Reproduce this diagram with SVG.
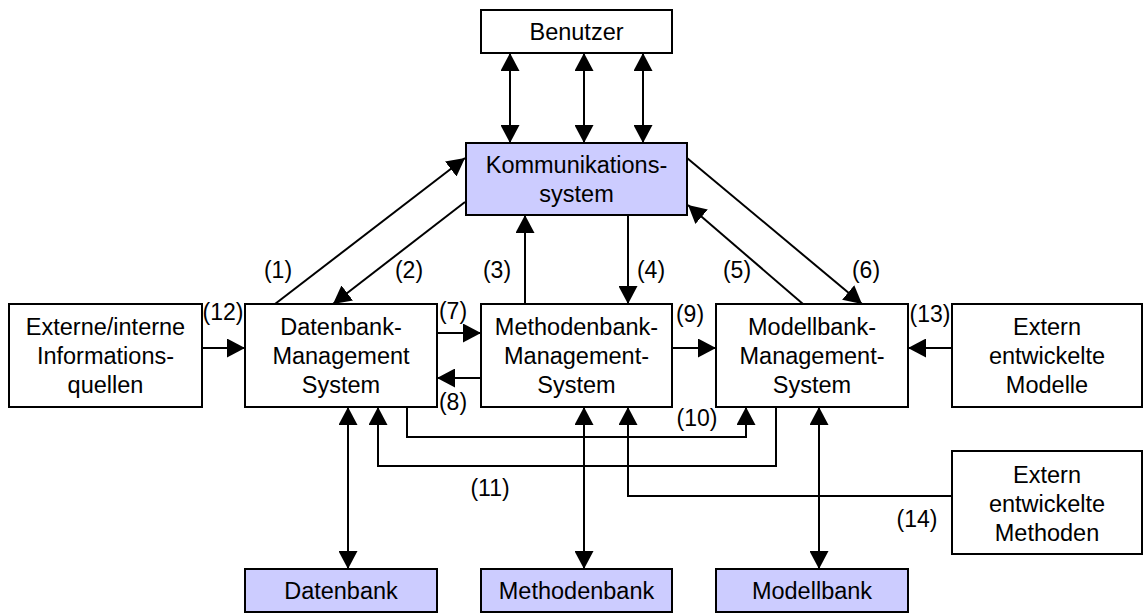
<svg xmlns="http://www.w3.org/2000/svg" width="1143" height="613" viewBox="0 0 1143 613">
  <style>
    .box { fill: #ffffff; stroke: #000000; stroke-width: 2; }
    .store { fill: #ccccff; stroke: #000000; stroke-width: 2; }
    .lbl { font-family: "Liberation Sans", Arial, sans-serif; font-size: 23.5px; fill: #000000; text-anchor: middle; }
    .num { font-family: "Liberation Sans", Arial, sans-serif; font-size: 23px; fill: #000000; text-anchor: middle; }
    .line { fill: none; stroke: #000000; stroke-width: 2; }
    .one { marker-end: url(#head); }
    .two { marker-start: url(#head); marker-end: url(#head); }
  </style>
  <defs>
    <marker id="head" markerUnits="userSpaceOnUse" markerWidth="18" markerHeight="19" refX="18" refY="9.5" orient="auto-start-reverse">
      <path d="M0,0 L18,9.5 L0,19 Z" fill="#000000"/>
    </marker>
  </defs>

  <rect width="1143" height="613" fill="#ffffff"/>

  <!-- connectors -->
  <g id="connectors">
    <!-- user <-> communication system -->
    <line class="line two" x1="510" y1="53" x2="510" y2="143"/>
    <line class="line two" x1="584" y1="53" x2="584" y2="143"/>
    <line class="line two" x1="643" y1="53" x2="643" y2="143"/>
    <!-- (1) .. (6) -->
    <line class="line one" x1="275" y1="304" x2="465" y2="158"/>
    <line class="line one" x1="465" y1="202" x2="333" y2="304"/>
    <line class="line one" x1="525" y1="304" x2="525" y2="215"/>
    <line class="line one" x1="628" y1="215" x2="628" y2="304"/>
    <line class="line one" x1="803" y1="304" x2="688" y2="205"/>
    <line class="line one" x1="687" y1="158" x2="862" y2="304"/>
    <!-- (7) (8) (9) (12) (13) -->
    <line class="line one" x1="437" y1="333" x2="481" y2="333"/>
    <line class="line one" x1="481" y1="378" x2="437" y2="378"/>
    <line class="line one" x1="672" y1="348" x2="716" y2="348"/>
    <line class="line one" x1="202" y1="348" x2="245" y2="348"/>
    <line class="line one" x1="952" y1="348" x2="908" y2="348"/>
    <!-- management systems <-> stores -->
    <line class="line two" x1="348" y1="407" x2="348" y2="569"/>
    <line class="line two" x1="584" y1="407" x2="584" y2="569"/>
    <line class="line two" x1="819" y1="407" x2="819" y2="569"/>
    <!-- (10) (11) (14) -->
    <path class="line one" d="M407,407 V437 H746 V407"/>
    <path class="line one" d="M776,407 V466 H378 V407"/>
    <path class="line one" d="M952,496 H628 V407"/>
  </g>

  <g id="benutzer">
    <rect class="box" x="481" y="10" width="191" height="43"/>
    <text class="lbl" x="576.5" y="40">Benutzer</text>
  </g>

  <g id="kommunikationssystem">
    <rect class="store" x="466" y="143" width="221" height="72"/>
    <text class="lbl" x="576.5" y="173">Kommunikations-</text>
    <text class="lbl" x="576.5" y="202">system</text>
  </g>

  <g id="informationsquellen">
    <rect class="box" x="9" y="304" width="193" height="103"/>
    <text class="lbl" x="105.5" y="335">Externe/interne</text>
    <text class="lbl" x="105.5" y="364">Informations-</text>
    <text class="lbl" x="105.5" y="393">quellen</text>
  </g>

  <g id="datenbank-ms">
    <rect class="box" x="245" y="304" width="192" height="103"/>
    <text class="lbl" x="341" y="335">Datenbank-</text>
    <text class="lbl" x="341" y="364">Management</text>
    <text class="lbl" x="341" y="393">System</text>
  </g>

  <g id="methodenbank-ms">
    <rect class="box" x="481" y="304" width="191" height="103"/>
    <text class="lbl" x="576.5" y="335">Methodenbank-</text>
    <text class="lbl" x="576.5" y="364">Management-</text>
    <text class="lbl" x="576.5" y="393">System</text>
  </g>

  <g id="modellbank-ms">
    <rect class="box" x="716" y="304" width="192" height="103"/>
    <text class="lbl" x="812" y="335">Modellbank-</text>
    <text class="lbl" x="812" y="364">Management-</text>
    <text class="lbl" x="812" y="393">System</text>
  </g>

  <g id="extern-modelle">
    <rect class="box" x="952" y="304" width="190" height="103"/>
    <text class="lbl" x="1047" y="335">Extern</text>
    <text class="lbl" x="1047" y="364">entwickelte</text>
    <text class="lbl" x="1047" y="393">Modelle</text>
  </g>

  <g id="extern-methoden">
    <rect class="box" x="952" y="451" width="190" height="103"/>
    <text class="lbl" x="1047" y="483">Extern</text>
    <text class="lbl" x="1047" y="512">entwickelte</text>
    <text class="lbl" x="1047" y="541">Methoden</text>
  </g>

  <g id="datenbank">
    <rect class="store" x="245" y="569" width="192" height="43"/>
    <text class="lbl" x="341" y="599">Datenbank</text>
  </g>

  <g id="methodenbank">
    <rect class="store" x="481" y="569" width="191" height="43"/>
    <text class="lbl" x="576.5" y="599">Methodenbank</text>
  </g>

  <g id="modellbank">
    <rect class="store" x="716" y="569" width="192" height="43"/>
    <text class="lbl" x="812" y="599">Modellbank</text>
  </g>

  <!-- flow numbers -->
  <g id="numbers">
    <text class="num" x="278" y="278">(1)</text>
    <text class="num" x="409" y="278">(2)</text>
    <text class="num" x="497" y="278">(3)</text>
    <text class="num" x="651" y="278">(4)</text>
    <text class="num" x="737" y="278">(5)</text>
    <text class="num" x="866" y="278">(6)</text>
    <text class="num" x="453" y="319">(7)</text>
    <text class="num" x="453" y="410">(8)</text>
    <text class="num" x="690" y="322">(9)</text>
    <text class="num" x="697" y="426">(10)</text>
    <text class="num" x="490" y="496">(11)</text>
    <text class="num" x="223" y="320">(12)</text>
    <text class="num" x="930" y="322">(13)</text>
    <text class="num" x="917" y="527">(14)</text>
  </g>
</svg>
